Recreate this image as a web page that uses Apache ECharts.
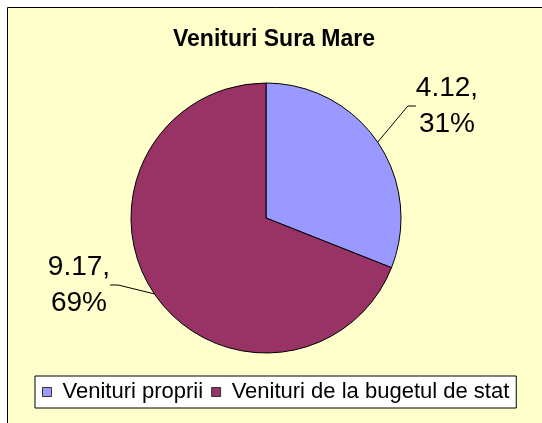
<!DOCTYPE html>
<html>
<head>
<meta charset="utf-8">
<script src="https://cdn.jsdelivr.net/npm/echarts@6/dist/echarts.min.js"></script>
<style>
  html, body { margin: 0; padding: 0; background: #fff; }
  #main { width: 542px; height: 423px; }
</style>
</head>
<body>
<div id="main"></div>
<script>
var chartDom = document.getElementById('main');
var myChart = echarts.init(chartDom);

// date
var categories = ['Venituri proprii', 'Venituri de la bugetul de stat'];
var values = [4.12, 9.17];
var colors = ['#9999FF', '#993366'];

var pieData = [];
for (var i = 0; i < categories.length; i++) {
  pieData.push({
    name: categories[i],
    value: values[i],
    itemStyle: { color: colors[i] }
  });
}

// pozitia etichetelor ca in original
var labelPos = [
  { x: 447, y: 106 },
  { x: 79, y: 285 }
];

var option = {
  backgroundColor: '#ffffff',
  animation: false,
  graphic: [
    {
      type: 'rect',
      shape: { x: 7.5, y: 7.5, width: 560, height: 440 },
      style: { fill: '#FFFFCC', stroke: '#000', lineWidth: 1 },
      z: -10
    }
  ],
  title: {
    text: 'Venituri Sura Mare',
    left: 168,
    top: 23,
    textStyle: {
      fontFamily: 'Liberation Sans, Arial',
      fontWeight: 'bold',
      fontSize: 23,
      color: '#000'
    }
  },
  legend: {
    top: 376,
    left: 35,
    icon: 'rect',
    itemWidth: 9,
    itemHeight: 9,
    itemGap: 8,
    padding: [5, 7],
    backgroundColor: '#fff',
    borderColor: '#000',
    borderWidth: 1,
    borderRadius: 0,
    itemStyle: { borderColor: '#333', borderWidth: 1 },
    textStyle: {
      fontFamily: 'Liberation Sans, Arial',
      fontSize: 22,
      color: '#000',
      padding: [0, 0, 0, 6]
    },
    data: categories
  },
  series: [
    {
      type: 'pie',
      center: [266, 218],
      radius: 135,
      startAngle: 90,
      clockwise: true,
      percentPrecision: 0,
      itemStyle: { borderColor: '#000', borderWidth: 1 },
      label: {
        show: true,
        position: 'outside',
        formatter: '{c},\n{d}%',
        fontFamily: 'Liberation Sans, Arial',
        fontSize: 28,
        lineHeight: 36,
        color: '#000',
        align: 'center'
      },
      labelLine: {
        show: true,
        length: 30,
        length2: 8,
        lineStyle: { color: '#000', width: 1 }
      },
      labelLayout: function (params) {
        var p = labelPos[params.dataIndex];
        return { x: p.x, y: p.y, align: 'center', verticalAlign: 'middle' };
      },
      emphasis: { disabled: true },
      data: pieData
    }
  ]
};

option && myChart.setOption(option);
</script>
</body>
</html>
